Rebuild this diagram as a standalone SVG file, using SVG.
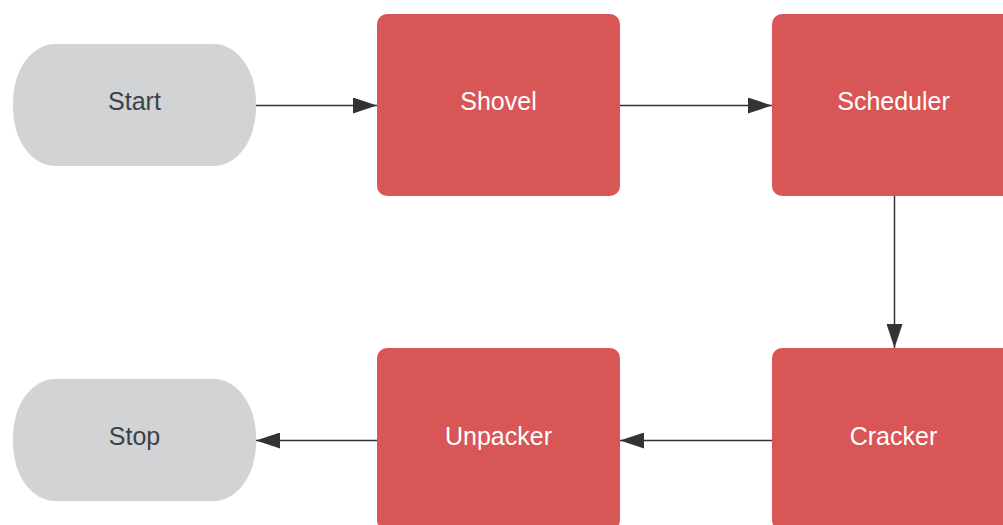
<svg xmlns="http://www.w3.org/2000/svg" width="1003" height="525" viewBox="0 0 1003 525">
<defs>
<style>
.term{fill:#d1d3d5;}
.proc{fill:#d85656;}
.tl{font-family:"Liberation Sans",Arial,sans-serif;font-size:25px;text-anchor:middle;}
.dark{fill:#3a414a;}
.light{fill:#ffffff;}
.conn{stroke:#333333;stroke-width:1.5;fill:none;}
</style>
<marker id="ah" markerWidth="24" markerHeight="16" refX="24" refY="8" orient="auto" markerUnits="userSpaceOnUse">
<path d="M0,0 L24,8 L0,16 Z" fill="#333333"/>
</marker>
</defs>
<rect width="1003" height="525" fill="#ffffff"/>
<g id="connectors">
<line class="conn" x1="256" y1="105.5" x2="377" y2="105.5" marker-end="url(#ah)"/>
<line class="conn" x1="620" y1="105.5" x2="772" y2="105.5" marker-end="url(#ah)"/>
<line class="conn" x1="894.5" y1="196" x2="894.5" y2="348" marker-end="url(#ah)"/>
<line class="conn" x1="772" y1="440.5" x2="620" y2="440.5" marker-end="url(#ah)"/>
<line class="conn" x1="377" y1="440.5" x2="256" y2="440.5" marker-end="url(#ah)"/>
</g>
<g id="start">
<rect class="term" x="13" y="44" width="243" height="122" rx="42" ry="58"/>
<text class="tl dark" x="134.5" y="110">Start</text>
</g>
<g id="shovel">
<rect class="proc" x="377" y="14" width="243" height="182" rx="10" ry="10"/>
<text class="tl light" x="498.5" y="109.5">Shovel</text>
</g>
<g id="scheduler">
<rect class="proc" x="772" y="14" width="243" height="182" rx="10" ry="10"/>
<text class="tl light" x="893.5" y="109.5">Scheduler</text>
</g>
<g id="cracker">
<rect class="proc" x="772" y="348" width="243" height="182" rx="10" ry="10"/>
<text class="tl light" x="893.5" y="444.5">Cracker</text>
</g>
<g id="unpacker">
<rect class="proc" x="377" y="348" width="243" height="182" rx="10" ry="10"/>
<text class="tl light" x="498.5" y="444.5">Unpacker</text>
</g>
<g id="stop">
<rect class="term" x="13" y="379" width="243" height="122" rx="42" ry="58"/>
<text class="tl dark" x="134.5" y="445">Stop</text>
</g>
</svg>
